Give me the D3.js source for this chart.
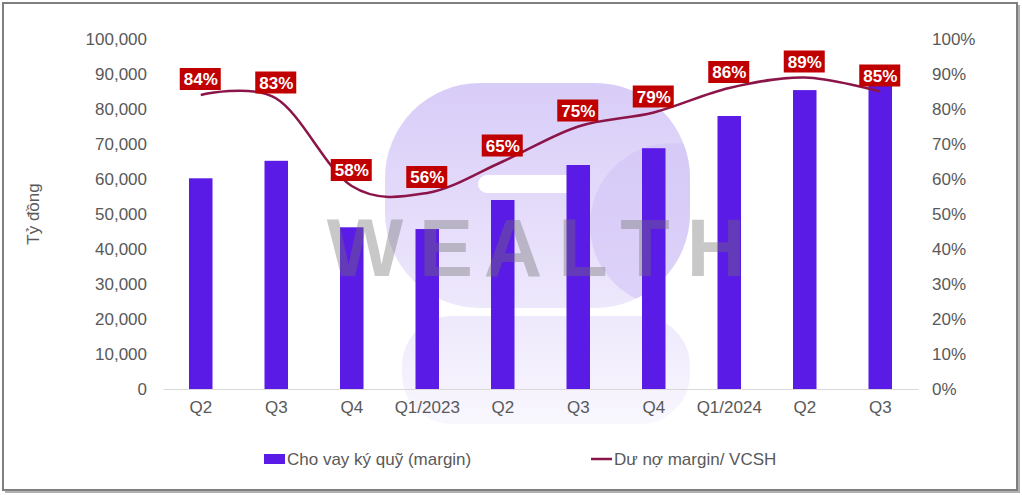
<!DOCTYPE html>
<html><head><meta charset="utf-8">
<script src="https://cdn.jsdelivr.net/npm/d3@7/dist/d3.min.js"></script>
<style>
html,body{margin:0;padding:0;background:#fff;}
svg{display:block;font-family:"Liberation Sans",Arial,sans-serif;}
</style></head>
<body>
<svg id="chart" width="1022" height="495"></svg>
<script>
const categories = ["Q2","Q3","Q4","Q1/2023","Q2","Q3","Q4","Q1/2024","Q2","Q3"];
const marginLoans = [60200, 65200, 46200, 45700, 54000, 64000, 68800, 78000, 85400, 87800];
const marginRatio = [0.84, 0.83, 0.58, 0.56, 0.65, 0.75, 0.79, 0.86, 0.89, 0.85];
const ratioLabels = ["84%","83%","58%","56%","65%","75%","79%","86%","89%","85%"];
const leftTicks = [0,10000,20000,30000,40000,50000,60000,70000,80000,90000,100000];
const rightTicks = [0,0.1,0.2,0.3,0.4,0.5,0.6,0.7,0.8,0.9,1.0];
const seriesNames = ["Cho vay ký quỹ (margin)", "Dư nợ margin/ VCSH"];
const yTitle = "Tỷ đồng";
const watermarkLetters = ["W","E","A","L","T","H"];

const svg = d3.select("#chart");
const m = {left:163, right:918, top:39, bottom:389};

// frame with shadow
svg.append("rect").attr("x",5).attr("y",5).attr("width",1015).attr("height",488).attr("fill","#b0b0b0");
svg.append("rect").attr("x",3).attr("y",3).attr("width",1014).attr("height",487)
  .attr("fill","#fff").attr("stroke","#7f7f7f").attr("stroke-width",2);

const defs = svg.append("defs");
const g1 = defs.append("linearGradient").attr("id","wm").attr("x1",0).attr("y1",0).attr("x2",0).attr("y2",1);
g1.append("stop").attr("offset","0%").attr("stop-color","#d8ccf8");
g1.append("stop").attr("offset","100%").attr("stop-color","#eee8fc");
const g2 = defs.append("linearGradient").attr("id","wm2").attr("x1",0).attr("y1",0).attr("x2",0).attr("y2",1);
g2.append("stop").attr("offset","0%").attr("stop-color","#eee9fc");
g2.append("stop").attr("offset","100%").attr("stop-color","#f9f7fe");
defs.append("clipPath").attr("id","wmclip").append("rect")
  .attr("x",385).attr("y",83).attr("width",305).attr("height",225).attr("rx",95);

// watermark logo (behind)
const wmG = svg.append("g");
wmG.append("rect").attr("x",385).attr("y",83).attr("width",305).attr("height",225).attr("rx",95).attr("fill","url(#wm)");
wmG.append("rect").attr("x",402).attr("y",316).attr("width",288).attr("height",108).attr("rx",50).attr("fill","url(#wm2)");
wmG.append("circle").attr("clip-path","url(#wmclip)").attr("cx",672).attr("cy",225).attr("r",82).attr("fill","#cfc1f5").attr("opacity",0.55);
wmG.append("rect").attr("x",478).attr("y",175).attr("width",100).attr("height",18).attr("rx",9).attr("fill","#fff");

const x = d3.scaleBand().domain(d3.range(categories.length)).range([m.left, m.right]).paddingInner(0).paddingOuter(0);
const yL = d3.scaleLinear().domain([0,100000]).range([m.bottom, m.top]);
const yR = d3.scaleLinear().domain([0,1]).range([m.bottom, m.top]);

// left axis
const axL = svg.append("g").attr("transform",`translate(${m.left-16},0)`)
  .call(d3.axisLeft(yL).tickValues(leftTicks).tickSize(0).tickPadding(0).tickFormat(d3.format(",")));
axL.select(".domain").remove();
axL.selectAll("text").attr("fill","#595959").style("font-size","17px").attr("dy","0.35em");

// right axis
const axR = svg.append("g").attr("transform",`translate(${m.right+14},0)`)
  .call(d3.axisRight(yR).tickValues(rightTicks).tickSize(0).tickPadding(0).tickFormat(d3.format(".0%")));
axR.select(".domain").remove();
axR.selectAll("text").attr("fill","#595959").style("font-size","17px").attr("dy","0.35em");

// bars
const bw = 23.5;
svg.append("g").selectAll("rect").data(marginLoans).join("rect")
  .attr("x",(d,i)=>x(i)+x.bandwidth()/2-bw/2).attr("width",bw)
  .attr("y",d=>yL(d)).attr("height",d=>yL(0)-yL(d)).attr("fill","#5b1be6");

// x axis
const axX = svg.append("g").attr("transform",`translate(0,${m.bottom})`)
  .call(d3.axisBottom(x).tickSize(0).tickPadding(12).tickFormat(i=>categories[i]));
axX.select(".domain").attr("stroke","#d9d9d9").attr("stroke-width",1);
axX.selectAll("text").attr("fill","#595959").style("font-size","17px");

// watermark text (over)
const wmX = [365, 446, 513, 583, 645, 716];
svg.append("g").selectAll("text").data(watermarkLetters).join("text")
  .attr("x",(d,i)=>wmX[i]).attr("y",276).attr("text-anchor","middle")
  .style("font-size","81px").style("font-weight","bold")
  .attr("fill","#707070").attr("opacity",0.38).text(d=>d);

// line
const line = d3.line().x((d,i)=>x(i)+x.bandwidth()/2).y(d=>yR(d)).curve(d3.curveCardinal.tension(0));
svg.append("path").datum(marginRatio).attr("d",line).attr("fill","none")
  .attr("stroke","#8b1548").attr("stroke-width",2.5);

// labels
const lab = svg.append("g").selectAll("g").data(marginRatio).join("g")
  .attr("transform",(d,i)=>`translate(${x(i)+x.bandwidth()/2},${yR(d)-5})`);
lab.append("rect").attr("x",-21).attr("y",-22).attr("width",41).attr("height",22).attr("fill","#c00000");
lab.append("text").attr("x",0).attr("y",-5).attr("text-anchor","middle").attr("fill","#fff")
  .style("font-size","17px").style("font-weight","bold").text((d,i)=>ratioLabels[i]);

// y title
svg.append("text").attr("transform","translate(39,214) rotate(-90)").attr("text-anchor","middle")
  .attr("fill","#595959").style("font-size","17px").text(yTitle);

// legend
svg.append("rect").attr("x",264).attr("y",454).attr("width",21).attr("height",10).attr("fill","#5b1be6");
svg.append("text").attr("x",287).attr("y",465).attr("fill","#595959").style("font-size","17px").text(seriesNames[0]);
svg.append("line").attr("x1",591).attr("x2",612).attr("y1",459).attr("y2",459).attr("stroke","#8b1548").attr("stroke-width",2.5);
svg.append("text").attr("x",614).attr("y",465).attr("fill","#595959").style("font-size","17px").text(seriesNames[1]);
</script>
</body></html>
